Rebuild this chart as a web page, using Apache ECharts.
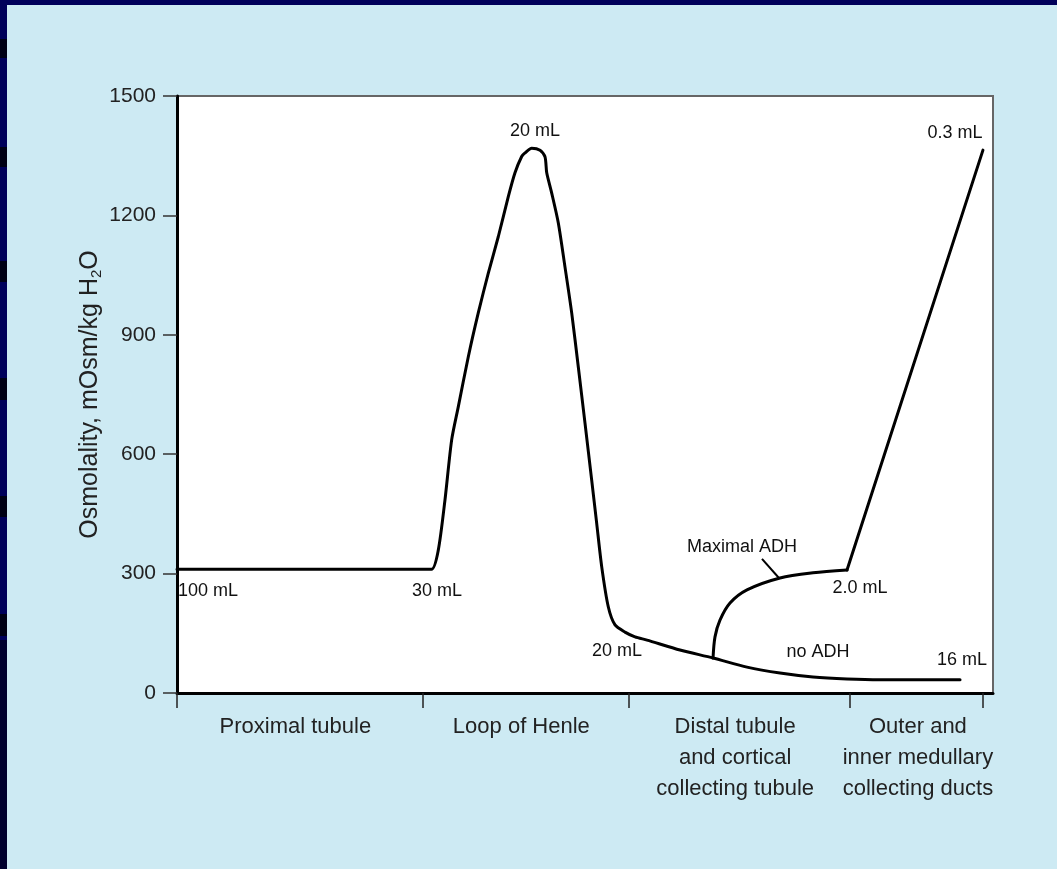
<!DOCTYPE html>
<html>
<head>
<meta charset="utf-8">
<script src="https://cdn.jsdelivr.net/npm/echarts@6/dist/echarts.min.js"></script>
<style>
html,body{margin:0;padding:0;background:#cdeaf3;}
#chart{width:1057px;height:869px;}
</style>
</head>
<body>
<div id="chart"></div>
<script>
// ---- data (x: position along the nephron, 0..100; y: mOsm/kg H2O) ----
const segmentNames = ['Proximal tubule', 'Loop of Henle', 'Distal tubule\nand cortical\ncollecting tubule', 'Outer and\ninner medullary\ncollecting ducts'];
const segmentBounds = [0, 30.1, 55.4, 82.4, 98.8];
const segmentCenters = [14.5, 42.2, 68.4, 90.8];
const yTicks = [0, 300, 600, 900, 1200, 1500];

// tubular fluid osmolality: proximal tubule, loop of Henle, distal tubule / collecting ducts without ADH
const mainX = [0, 29.0, 31.2, 32.02, 32.84, 33.66, 34.47, 35.70, 36.92, 38.15, 39.38, 40.60, 41.42, 42.24, 42.65, 43.47, 44.49, 45.10, 45.31, 45.92, 46.73, 47.55, 48.37, 49.18, 50.00, 50.82, 51.43, 52.05, 52.86, 53.68, 54.90, 56.13, 57.60, 61.64, 65.69, 69.85, 73.90, 77.94, 82.11, 86.15, 90.20, 95.96];
const mainY = [311, 311, 311, 359, 485, 636, 719, 845, 955, 1055, 1147, 1247, 1307, 1348, 1357, 1369, 1364, 1347, 1307, 1256, 1181, 1070, 955, 819, 678, 535, 427, 317, 216, 171, 153, 141, 133, 108, 88, 65, 50, 40, 35, 33, 33, 33];

// with maximal ADH: distal / cortical collecting tubule
const adhX = [65.69, 65.93, 66.54, 67.77, 69.85, 73.90, 77.94, 82.11];
const adhY = [88, 141, 183, 226, 259, 289, 302, 309];

// with maximal ADH: outer and inner medullary collecting ducts
const ductX = [82.11, 98.77];
const ductY = [309, 1364];

const pointerX = [71.69, 73.77];
const pointerY = [337, 289];

const noteText = ['20 mL', '0.3 mL', '100 mL', '30 mL', '20 mL', 'Maximal ADH', '2.0 mL', 'no ADH', '16 mL'];
const noteX = [43.87, 95.34, 3.80, 31.86, 53.92, 69.24, 83.70, 78.55, 96.20];
const noteY = [1412, 1407, 256, 256, 106, 367, 264, 103, 83];

const zip = (xs, ys) => xs.map((x, i) => [x, ys[i]]);

const chart = echarts.init(document.getElementById('chart'), null, {renderer: 'canvas'});
const FONT = '"Liberation Sans", Arial, Helvetica, sans-serif';
const lineBase = {type: 'line', showSymbol: false, symbol: 'none', z: 3, silent: true};

const option = {
  backgroundColor: '#cdeaf3',
  animation: false,
  textStyle: {fontFamily: FONT},
  graphic: [
    {type: 'rect', left: 0, top: 0, shape: {width: 1057, height: 5}, style: {fill: '#00005a'}},
    {type: 'rect', left: 0, top: 0, shape: {width: 7, height: 640}, style: {fill: '#00005a'}},
    {type: 'rect', left: 0, top: 640, shape: {width: 7, height: 229}, style: {fill: '#00002e'}},
    {type: 'rect', left: 0, top: 39, shape: {width: 7, height: 19}, style: {fill: '#000014'}},
    {type: 'rect', left: 0, top: 147, shape: {width: 7, height: 20}, style: {fill: '#000014'}},
    {type: 'rect', left: 0, top: 261, shape: {width: 7, height: 21}, style: {fill: '#000014'}},
    {type: 'rect', left: 0, top: 378, shape: {width: 7, height: 22}, style: {fill: '#000014'}},
    {type: 'rect', left: 0, top: 496, shape: {width: 7, height: 21}, style: {fill: '#000014'}},
    {type: 'rect', left: 0, top: 614, shape: {width: 7, height: 22}, style: {fill: '#000014'}}
  ],
  grid: {
    left: 177, right: 64, top: 96, bottom: 176,
    show: true, backgroundColor: '#ffffff', borderColor: '#666', borderWidth: 2
  },
  xAxis: {
    type: 'value', min: 0, max: 100,
    axisLine: {show: true, lineStyle: {color: '#000', width: 3}},
    axisTick: {show: true, customValues: segmentBounds, length: 15, lineStyle: {color: '#222', width: 1.5}},
    axisLabel: {
      show: true, customValues: segmentCenters, margin: 18,
      color: '#222', fontSize: 22, lineHeight: 31, fontFamily: FONT,
      formatter: (v) => { const i = segmentCenters.indexOf(v); return i >= 0 ? segmentNames[i] : ''; }
    },
    splitLine: {show: false}
  },
  yAxis: {
    type: 'value', min: 0, max: 1500, interval: 300,
    axisLine: {show: true, lineStyle: {color: '#000', width: 3}},
    axisTick: {show: true, customValues: yTicks, length: 14, lineStyle: {color: '#333', width: 1.5}},
    axisLabel: {show: true, customValues: yTicks, margin: 21, color: '#222', fontSize: 21, fontFamily: FONT,
      formatter: (v) => String(v)},
    splitLine: {show: false},
    name: 'Osmolality, mOsm/kg H{sub|2}O',
    nameLocation: 'middle', nameGap: 73, nameRotate: 90, nameMoveOverlap: false,
    nameTextStyle: {
      color: '#222', fontSize: 25, fontFamily: FONT,
      rich: {sub: {fontSize: 15, color: '#222', fontFamily: FONT, padding: [13, 0, 0, 0]}}
    }
  },
  series: [
    Object.assign({}, lineBase, {data: zip(mainX, mainY), smooth: 0.25,
      lineStyle: {color: '#000', width: 3, join: 'round', cap: 'round'}}),
    Object.assign({}, lineBase, {data: zip(adhX, adhY), smooth: 0.3,
      lineStyle: {color: '#000', width: 3, join: 'round', cap: 'round'}}),
    Object.assign({}, lineBase, {data: zip(ductX, ductY),
      lineStyle: {color: '#000', width: 3, join: 'round', cap: 'round'}}),
    Object.assign({}, lineBase, {data: zip(pointerX, pointerY),
      lineStyle: {color: '#000', width: 2}}),
    {
      type: 'scatter', symbolSize: 1, silent: true,
      itemStyle: {color: 'rgba(0,0,0,0)', opacity: 1},
      data: noteX.map((x, i) => ({value: [x, noteY[i]], name: noteText[i]})),
      label: {show: true, position: 'inside', formatter: '{b}', color: '#111', fontSize: 18, fontFamily: FONT, opacity: 1},
      z: 4
    }
  ]
};
chart.setOption(option);
</script>
</body>
</html>
